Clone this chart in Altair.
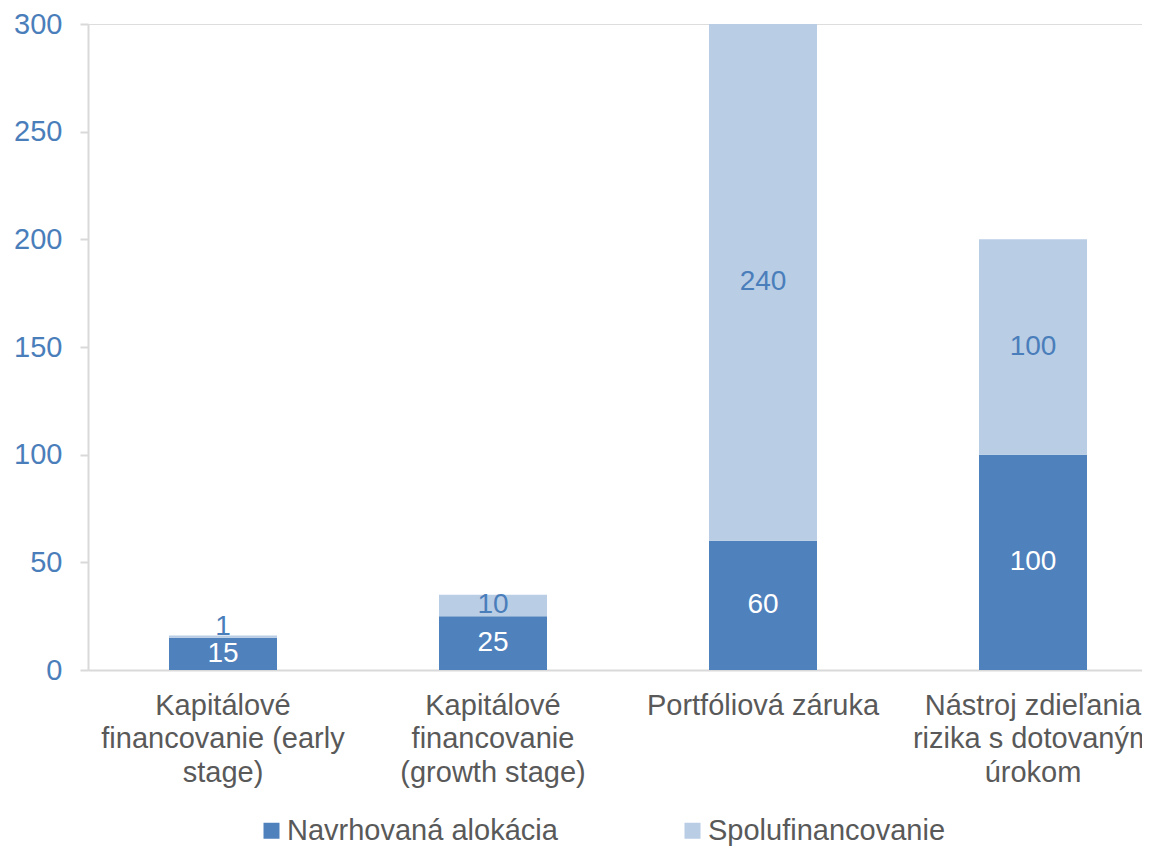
import altair as alt
import pandas as pd

categories = [
    "Kapitálové financovanie (early stage)",
    "Kapitálové financovanie (growth stage)",
    "Portfóliová záruka",
    "Nástroj zdieľania rizika s dotovaným úrokom",
]
category_lines = [
    ["Kapitálové", "financovanie (early", "stage)"],
    ["Kapitálové", "financovanie", "(growth stage)"],
    ["Portfóliová záruka"],
    ["Nástroj zdieľania", "rizika s dotovaným", "úrokom"],
]
series = ["Navrhovaná alokácia", "Spolufinancovanie"]
allocation = [15, 25, 60, 100]
cofinancing = [1, 10, 240, 100]
colors = ["#4f81bd", "#b9cde5"]
text_colors = ["#ffffff", "#4a7ebb"]
y_ticks = [0, 50, 100, 150, 200, 250, 300]

rows = []
for i, c in enumerate(categories):
    rows.append({"cat": c, "series": series[0], "order": 0, "value": allocation[i]})
    rows.append({"cat": c, "series": series[1], "order": 1, "value": cofinancing[i]})
df = pd.DataFrame(rows)

# label expression for multi-line x labels
expr = "''"
for c, lines in reversed(list(zip(categories, category_lines))):
    arr = "[" + ",".join("'" + l + "'" for l in lines) + "]"
    expr = f"datum.label == '{c}' ? {arr} : ({expr})"

FONT = "Liberation Sans"
AX_FS = 29
BAR_FS = 28

base = alt.Chart(df).transform_stack(
    stack="value", groupby=["cat"], as_=["y0", "y1"],
    sort=[alt.SortField("order", order="ascending")]
).transform_calculate(mid="(datum.y0 + datum.y1) / 2")

xenc = alt.X(
    "cat:N", sort=categories, title=None,
    scale=alt.Scale(paddingInner=0.6, paddingOuter=0.3, range=[0, 1080]),
    axis=alt.Axis(labelExpr=expr, labelAngle=0, labelFontSize=AX_FS, labelColor="#595959",
                  labelLineHeight=33.5, labelPadding=21, ticks=False,
                  domainColor="#d9d9d9", domainWidth=2, labelFont=FONT, labelLimit=500),
)
yscale = alt.Scale(domain=[0, 300], nice=False)

bars = base.mark_bar().encode(
    x=xenc,
    y=alt.Y("y0:Q", scale=yscale, title=None,
            axis=alt.Axis(values=y_ticks, grid=False, labelFontSize=AX_FS, labelColor="#4a7ebb",
                          labelFont=FONT, tickColor="#d9d9d9", tickSize=8, tickWidth=2,
                          domainColor="#d9d9d9", domainWidth=2, labelPadding=18)),
    y2="y1:Q",
    color=alt.Color("series:N", sort=series,
                    scale=alt.Scale(domain=series, range=colors),
                    legend=alt.Legend(title=None, orient="none", legendX=169, legendY=792,
                                      direction="horizontal", symbolType="square",
                                      symbolSize=256, symbolStrokeWidth=0,
                                      labelFontSize=AX_FS, labelColor="#595959", labelFont=FONT,
                                      columnPadding=120, labelOffset=1, padding=0,
                                      labelLimit=500)),
)

text_main = base.transform_filter("datum.value >= 3").mark_text(
    fontSize=BAR_FS, font=FONT, baseline="middle"
).encode(
    x=alt.X("cat:N", sort=categories),
    y=alt.Y("mid:Q", scale=yscale),
    text="value:Q",
    color=alt.Color("series:N", scale=alt.Scale(domain=series, range=text_colors), legend=None),
)
text_small = base.transform_filter("datum.value < 3").mark_text(
    fontSize=BAR_FS, font=FONT, baseline="middle", dy=-10
).encode(
    x=alt.X("cat:N", sort=categories),
    y=alt.Y("mid:Q", scale=yscale),
    text="value:Q",
    color=alt.Color("series:N", scale=alt.Scale(domain=series, range=text_colors), legend=None),
)

chart = alt.layer(bars, text_main, text_small).resolve_scale(color="independent").properties(
    width=1054, height=646,
    autosize=alt.AutoSizeParams(type="none"),
    padding={"left": 80, "top": 16, "right": 0, "bottom": 176},
).configure_view(stroke=None).configure(font=FONT)

chart.save("out.html", embed_options={"renderer": "svg", "actions": False})
